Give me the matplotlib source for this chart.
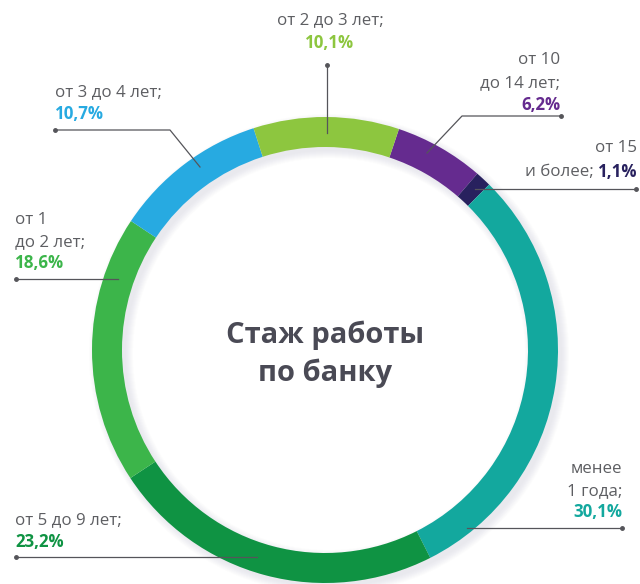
import matplotlib
matplotlib.use('Agg')
import matplotlib.pyplot as plt
from matplotlib.patches import Wedge

plt.rcParams['font.family'] = ['Open Sans', 'DejaVu Sans']

# slices, clockwise from the purple one
labels = ['от 10\nдо 14 лет;', 'от 15\nи более;', 'менее\n1 года;', 'от 5 до 9 лет;',
          'от 1\nдо 2 лет;', 'от 3 до 4 лет;', 'от 2 до 3 лет;']
values = [6.2, 1.1, 30.1, 23.2, 18.6, 10.7, 10.1]
pct_text = ['6,2%', '1,1%', '30,1%', '23,2%', '18,6%', '10,7%', '10,1%']
colors = ['#652b8f', '#28215e', '#13a89e', '#0f9343', '#3cb54a', '#27aae1', '#8dc63f']

W, H = 640, 584
grey = '#5d5e62'
fs = 12.2

fig = plt.figure(figsize=(W / 100, H / 100), dpi=100)
ax = fig.add_axes([0, 0, 1, 1])
ax.set_xlim(0, W)
ax.set_ylim(0, H)
ax.axis('off')

def Y(y):
    return H - y

cx, cy, R, ring = 325, Y(350), 233, 30

# soft shadow under the ring
for k in range(8):
    ax.add_patch(Wedge((cx + 4, cy - 4), R + k, 0, 360, width=ring + 2 * k,
                       facecolor='#9a9aa8', edgecolor='none', alpha=0.025, zorder=1))

wedges, _ = ax.pie(values, colors=colors, center=(cx, cy), radius=R, startangle=71.5,
                   counterclock=False, wedgeprops=dict(width=ring, linewidth=0))
for w in wedges:
    w.set_zorder(2)
ax.set_xlim(0, W)
ax.set_ylim(0, H)
ax.set_aspect('equal')

# center title
ax.text(cx, Y(335), 'Стаж работы', ha='center', va='center', fontsize=21,
        fontweight='bold', color='#4a4a55')
ax.text(cx, Y(373), 'по банку', ha='center', va='center', fontsize=21,
        fontweight='bold', color='#4a4a55')

def leader(xs, ys, dot_first=True):
    ax.plot(xs, [Y(v) for v in ys], color='#55555a', lw=0.9, zorder=3)
    i = 0 if dot_first else -1
    ax.plot(xs[i], Y(ys[i]), 'o', ms=2.5, color='#55555a', zorder=3)

def label(x, ys, lines, pct, color, ha):
    for yy, t in zip(ys[:-1], lines):
        ax.text(x, Y(yy), t, ha=ha, va='center', fontsize=fs, color=grey)
    ax.text(x, Y(ys[-1]), pct, ha=ha, va='center', fontsize=fs, fontweight='bold', color=color)

# от 10 до 14 лет
label(560, [60, 83, 105], labels[0].split('\n'), pct_text[0], colors[0], 'right')
leader([561, 462, 427], [116, 116, 153])

# от 15 и более (mixed line)
ax.text(637, Y(148), labels[1].split('\n')[0], ha='right', va='center', fontsize=fs, color=grey)
p = ax.text(637, Y(172), pct_text[1], ha='right', va='center', fontsize=fs,
            fontweight='bold', color=colors[1])
fig.canvas.draw()
bb = p.get_window_extent(fig.canvas.get_renderer())
ax.text(bb.x0 - 4, Y(172), labels[1].split('\n')[1], ha='right', va='center',
        fontsize=fs, color=grey)
leader([636, 475], [189, 189])

# менее 1 года
label(622, [469, 491, 512], labels[2].split('\n'), pct_text[2], colors[2], 'right')
leader([622, 467], [528, 528], dot_first=True)

# от 5 до 9 лет
label(15, [520, 542], [labels[3]], pct_text[3], colors[3], 'left')
leader([16, 257], [557, 557])

# от 1 до 2 лет
label(15, [220, 242, 263], labels[4].split('\n'), pct_text[4], colors[4], 'left')
leader([16, 118], [279, 279])

# от 3 до 4 лет
label(55, [92, 114], [labels[5]], pct_text[5], colors[5], 'left')
leader([55, 170, 200], [130, 130, 167])

# от 2 до 3 лет
label(330, [20, 43], [labels[6]], pct_text[6], colors[6], 'center')
leader([327, 327], [65, 133])

fig.savefig('out.png', dpi=100)
